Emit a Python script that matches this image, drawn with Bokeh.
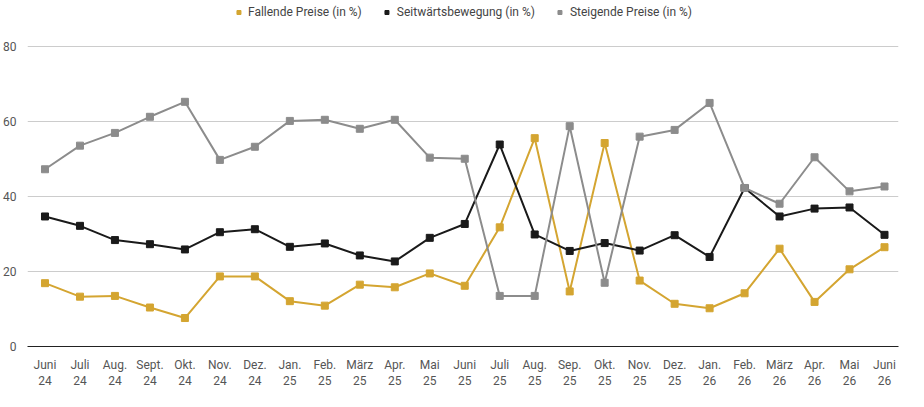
from bokeh.plotting import figure
from bokeh.models import Legend, LegendItem, FixedTicker, Range1d
from bokeh.embed import file_html
from bokeh.resources import INLINE

labels = ["Juni\n24","Juli\n24","Aug.\n24","Sept.\n24","Okt.\n24","Nov.\n24","Dez.\n24","Jan.\n25","Feb.\n25","März\n25","Apr.\n25","Mai\n25","Juni\n25","Juli\n25","Aug.\n25","Sep.\n25","Okt.\n25","Nov.\n25","Dez.\n25","Jan.\n26","Feb.\n26","März\n26","Apr.\n26","Mai\n26","Juni\n26"]
fallend = [16.9,13.3,13.5,10.4,7.6,18.7,18.7,12.1,10.9,16.5,15.8,19.5,16.2,31.8,55.6,14.7,54.3,17.6,11.4,10.2,14.2,26.1,11.9,20.6,26.5]
seitwaerts = [34.7,32.2,28.4,27.3,25.9,30.5,31.3,26.6,27.5,24.3,22.7,29.0,32.7,53.9,29.9,25.5,27.6,25.6,29.7,23.9,42.3,34.7,36.8,37.1,29.8]
steigend = [47.3,53.6,57.0,61.3,65.3,49.8,53.3,60.2,60.5,58.1,60.5,50.4,50.1,13.5,13.5,58.8,17.0,56.0,57.8,65.0,42.3,38.1,50.5,41.4,42.7]
names = ["Fallende Preise (in %)","Seitwärtsbewegung (in %)","Steigende Preise (in %)"]
colors = ["#d4a531","#1a1a1a","#8c8c8c"]

x = list(range(len(labels)))
p = figure(width=908, height=391, output_backend="svg", toolbar_location=None,
           x_range=Range1d(-0.5, 24.4), y_range=Range1d(0, 91),
           min_border_left=10, min_border_right=10, min_border_top=5, min_border_bottom=5)
p.outline_line_color = None
items = []
for ys, n, c in zip([fallend, seitwaerts, steigend], names, colors):
    p.line(x, ys, line_color=c, line_width=2)
    s = p.scatter(x, ys, marker="square", size=7, fill_color=c, line_color=c)
    items.append(LegendItem(label=n, renderers=[s]))
leg = Legend(items=items, orientation="horizontal", location="top_center",
             label_text_font="Roboto", label_text_font_size="9pt", label_text_color="#444444",
             border_line_color=None, background_fill_alpha=0, glyph_width=10, glyph_height=10,
             spacing=20, margin=0, padding=2)
p.add_layout(leg)
p.xaxis.ticker = FixedTicker(ticks=x)
p.xaxis.major_label_overrides = {i: s for i, s in enumerate(labels)}
p.yaxis.ticker = FixedTicker(ticks=[0,20,40,60,80])
for ax in (p.xaxis, p.yaxis):
    ax.major_label_text_font = "Roboto"
    ax.major_label_text_font_size = "9pt"
    ax.major_label_text_color = "#555555"
    ax.major_tick_line_color = None
    ax.minor_tick_line_color = None
p.xaxis.axis_line_color = "#222222"
p.yaxis.axis_line_color = None
p.xgrid.grid_line_color = None
p.ygrid.grid_line_color = "#cccccc"
open("out.html", "w").write(file_html(p, INLINE))
